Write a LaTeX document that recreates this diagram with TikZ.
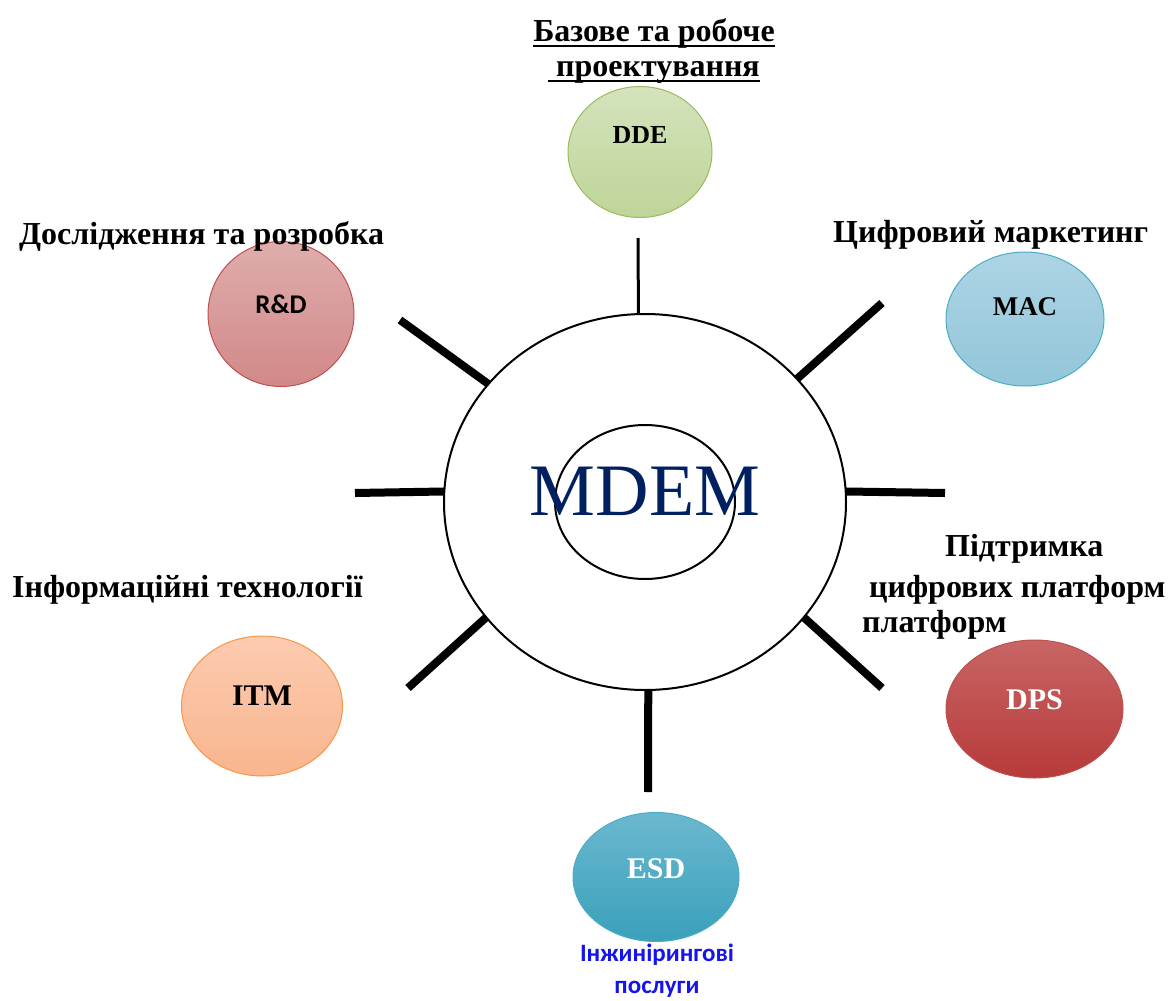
\documentclass[tikz,border=0pt]{standalone}
\usepackage{fontspec}
\setmainfont{Liberation Serif}
\newfontfamily\calfont{Carlito}
\usepackage{tikz}
\usetikzlibrary{shapes.geometric}
\usetikzlibrary{positioning}
\definecolor{mdemblue}{RGB}{0,32,96}
\definecolor{ddetop}{RGB}{212,227,189}
\definecolor{ddebot}{RGB}{190,213,152}
\definecolor{ddeedge}{RGB}{155,187,89}
\definecolor{rndtop}{RGB}{223,173,173}
\definecolor{rndbot}{RGB}{210,136,136}
\definecolor{rndedge}{RGB}{192,80,77}
\definecolor{mactop}{RGB}{173,212,228}
\definecolor{macbot}{RGB}{146,198,217}
\definecolor{macedge}{RGB}{75,172,198}
\definecolor{dpstop}{RGB}{200,101,101}
\definecolor{dpsbot}{RGB}{184,58,58}
\definecolor{dpsedge}{RGB}{190,80,77}
\definecolor{itmtop}{RGB}{252,203,176}
\definecolor{itmbot}{RGB}{249,181,142}
\definecolor{itmedge}{RGB}{247,150,70}
\definecolor{esdtop}{RGB}{107,184,207}
\definecolor{esdbot}{RGB}{58,160,187}
\definecolor{esdedge}{RGB}{75,172,198}
\definecolor{esdtext}{RGB}{20,20,235}
\tikzstyle{bubble}=[ellipse, inner sep=0pt, outer sep=0pt, line width=1pt]
\tikzstyle{spoke}=[line width=8pt]
\tikzstyle{caption}=[font=\fontsize{32}{35}\selectfont\bfseries, inner sep=0pt]
\tikzstyle{tag}=[font=\fontsize{30}{30}\selectfont\bfseries, inner sep=0pt]
\newsavebox{\ulbox}
\newcommand{\ulbf}[1]{\sbox{\ulbox}{#1}\rlap{\rule[-6pt]{\wd\ulbox}{2.5pt}}\usebox{\ulbox}}

\begin{document}
\begin{tikzpicture}[x=1pt,y=-1pt]
          \useasboundingbox (0,0) rectangle (1171,1001);
          \node[ellipse, draw=black, line width=2pt, inner sep=0pt, outer sep=0pt, minimum width=402pt, minimum height=376pt] (ring) at (645,502){};
          \node[ellipse, draw=black, line width=2pt, minimum width=180pt, minimum height=154pt] (core) at (645,502){};
          \node[inner sep=0pt, text=mdemblue, font=\fontsize{74}{80}\selectfont] (mdem) at (645,491.5){MDEM};
          \node[bubble, draw=ddeedge, top color=ddetop, bottom color=ddebot, minimum width=144pt, minimum height=131pt] (dde) at (640,152){};
          \node[tag, font=\fontsize{26}{26}\selectfont\bfseries] (ddet) at ([yshift=17pt]dde.center){DDE};
          \node[bubble, draw=rndedge, top color=rndtop, bottom color=rndbot, minimum width=146pt, minimum height=145pt] (rnd) at (281,314){};
          \node[tag, font=\calfont\fontsize{27}{27}\selectfont\bfseries] (rndt) at ([yshift=10pt]rnd.center){R\&D};
          \node[bubble, draw=macedge, top color=mactop, bottom color=macbot, minimum width=158pt, minimum height=134pt] (mac) at (1025,319){};
          \node[tag, font=\fontsize{27}{27}\selectfont\bfseries] (mact) at ([yshift=12pt]mac.center){MAC};
          \node[bubble, draw=dpsedge, top color=dpstop, bottom color=dpsbot, minimum width=177pt, minimum height=138pt] (dps) at (1034.5,709){};
          \node[tag, text=white] (dpst) at ([yshift=9pt]dps.center){DPS};
          \node[bubble, draw=itmedge, top color=itmtop, bottom color=itmbot, minimum width=161pt, minimum height=140pt] (itm) at (262,706){};
          \node[tag] (itmt) at ([yshift=10pt]itm.center){ITM};
          \node[bubble, draw=esdedge, top color=esdtop, bottom color=esdbot, minimum width=166pt, minimum height=129pt] (esd) at (656,877){};
          \node[tag, text=white] (esdt) at ([yshift=8pt]esd.center){ESD};
          \node[caption, align=center, anchor=north] (ddecap) at (654,18){\ulbf{Базове та робоче}\\\ulbf{\ проектування}};
          \node[caption, anchor=base west] (rndcap) at (19,244){Дослідження та розробка};
          \node[caption, anchor=base west] (maccap) at (833,242){Цифровий маркетинг};
          \node[caption, align=left, anchor=north west] (dpscap) at (862,534){\hspace*{83pt}Підтримка\\[6pt]\hspace*{7pt}цифрових платформ\\платформ};
          \node[caption, anchor=base west] (itmcap) at (12,597){Інформаційні технології};
          \node[inner sep=0pt, align=center, anchor=north, text=esdtext, font=\calfont\fontsize{25}{32}\selectfont\bfseries] (esdcap) at (657,944){Інжинірингові\\послуги};
          \coordinate (p1) at (638,238);
          \coordinate (p2) at (882,303);
          \coordinate (p3) at (945,493);
          \coordinate (p4) at (882,688);
          \coordinate (p5) at (648,792);
          \coordinate (p6) at (408,688);
          \coordinate (p7) at (355,493);
          \coordinate (p8) at (400,320);
          \draw[line width=3pt](ring.92) -- (p1);
          \draw[spoke](ring.39) -- (p2);
          \draw[spoke](ring.3) -- (p3);
          \draw[spoke](ring.-36) -- (p4);
          \draw[spoke](ring.-89) -- (p5);
          \draw[spoke](ring.216) -- (p6);
          \draw[spoke](ring.177) -- (p7);
          \draw[spoke](ring.143) -- (p8);
        \end{tikzpicture}
\end{document}
